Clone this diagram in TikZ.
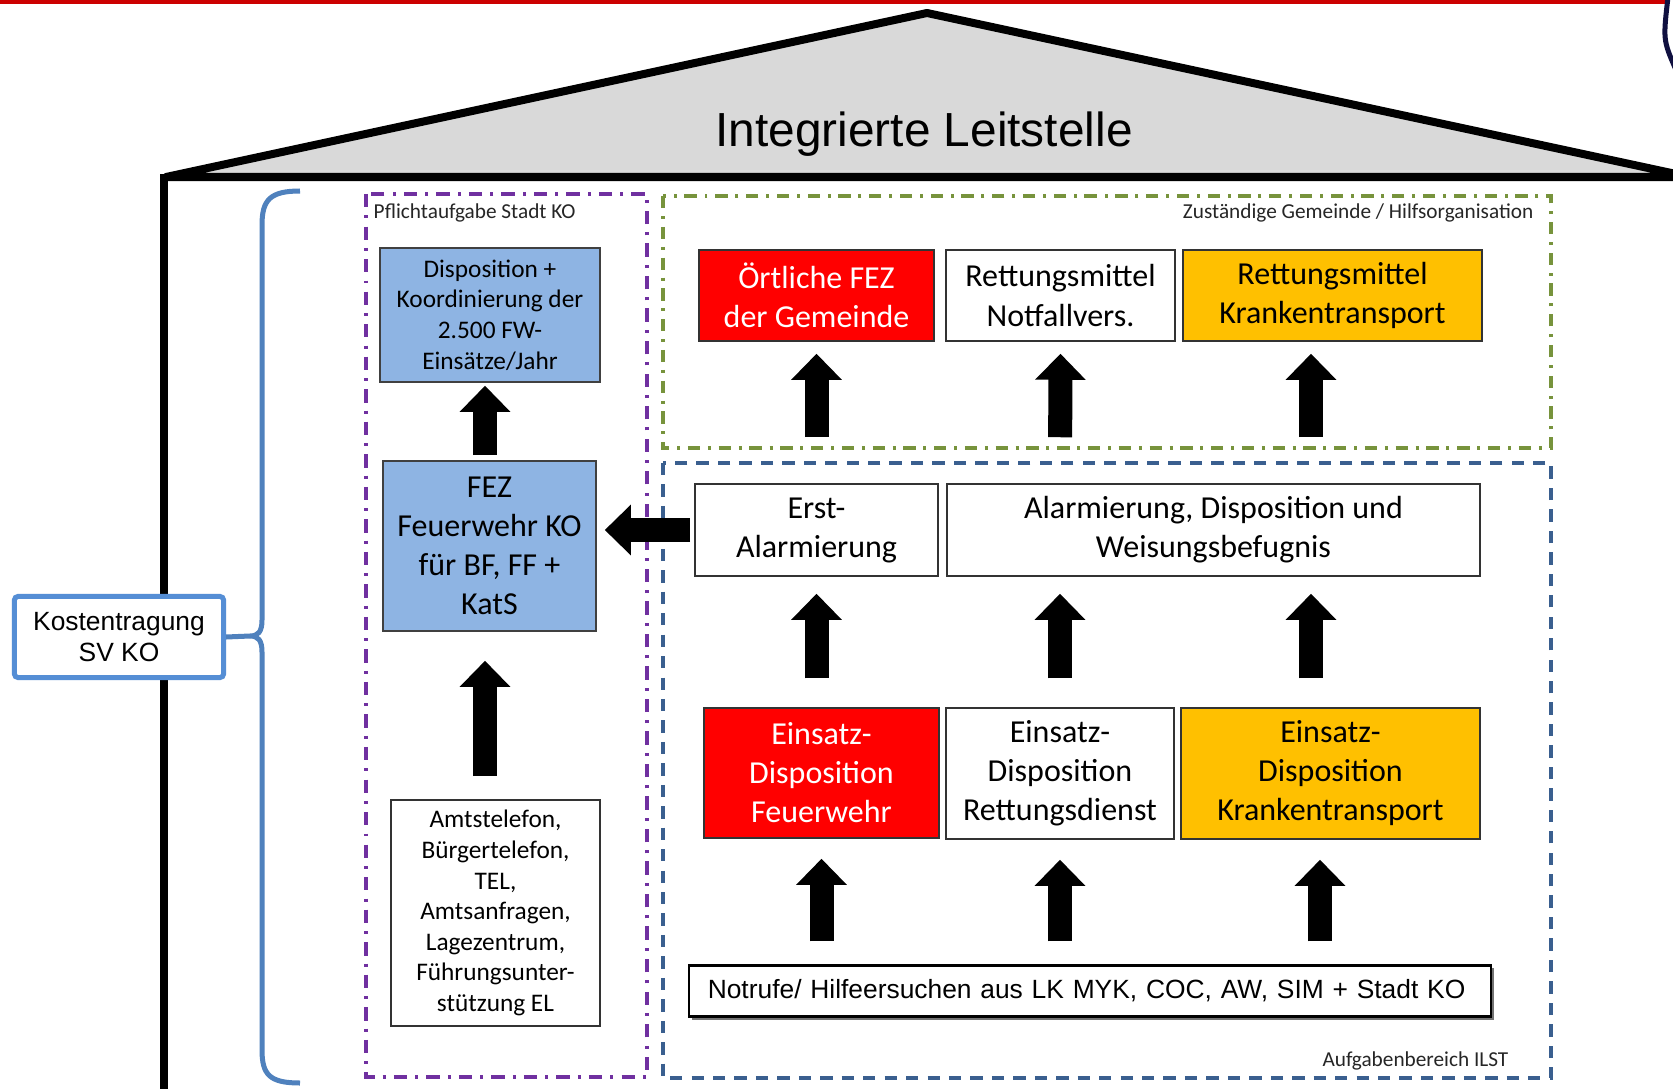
\documentclass[tikz,border=0pt]{standalone}
\usepackage{fontspec}
\setmainfont{Carlito}
\newfontfamily\arialfont{Liberation Sans}
\usetikzlibrary{arrows.meta,shadows}

\definecolor{roofgray}{HTML}{D9D9D9}
\definecolor{fezblue}{HTML}{8EB4E3}
\definecolor{orangebox}{HTML}{FFC000}
\definecolor{lila}{HTML}{7030A0}
\definecolor{oliv}{HTML}{77933C}
\definecolor{ilstblue}{HTML}{3A5F8F}
\definecolor{bracket}{HTML}{4F81BD}
\definecolor{kostblue}{HTML}{558ED5}
\definecolor{topred}{HTML}{CC0000}
\definecolor{navy}{HTML}{101040}

\tikzset{
  box/.style={draw=black!80, line width=0.4pt, inner sep=1pt, align=center,
    font=\fontsize{9.1}{11.1}\selectfont},
  klein/.style={font=\fontsize{7.2}{8.7}\selectfont},
  bluebox/.style={box, fill=fezblue, draw=black!75},
  redbox/.style={box, fill=red, text=white},
  orgbox/.style={box, fill=orangebox},
  blk/.style={line width=0.24cm, -{Triangle[width=0.49cm,length=0.26cm]}},
  lbl/.style={inner sep=0pt, font=\fontsize{6.05}{7}\selectfont, text=black!85},
  brc/.style={bracket, line width=0.05cm},
}

\begin{document}
\begin{tikzpicture}[x=0.01cm, y=-0.01cm]
\useasboundingbox[fill=white] (0,0) rectangle (1673,1088);

% frame of the slide
\draw[topred, line width=0.045cm] (0,2) -- (1667,2);
\draw[navy, line width=0.05cm] (1668,-3) .. controls (1663,40) .. (1676,70);

% house
\draw[line width=0.085cm] (164,174) -- (164,1095);
\filldraw[fill=roofgray, line width=0.08cm, line join=round] (166,177) -- (927,13) -- (1690,177) -- cycle;
\node[font=\arialfont\fontsize{13.6}{16}\selectfont] (titel) at (924,134) {Integrierte Leitstelle};

% areas
\draw[lila, line width=1pt, dash pattern=on 3.8pt off 2.3pt on 0.85pt off 2.3pt] (366,194) rectangle (647,1077);
\draw[oliv, line width=1pt, dash pattern=on 3.5pt off 2.2pt on 0.85pt off 2.2pt] (663,196) rectangle (1551,448);
\draw[ilstblue, line width=1.15pt, dash pattern=on 3.5pt off 2.6pt] (663,463) rectangle (1551,1078);
\node[lbl, anchor=west] (pflicht) at (373,213) {Pflichtaufgabe Stadt KO};
\node[lbl, anchor=east] (zust) at (1534,213) {Zuständige Gemeinde / Hilfsorganisation};
\node[lbl, anchor=east] (ilst) at (1509,1061) {Aufgabenbereich ILST};

% Stadt KO
\node[bluebox, klein, minimum width=2.20cm, minimum height=1.34cm] (disp) at (490,315) {Disposition +\\Koordinierung der\\2.500 FW-\\Einsätze/Jahr};
\node[bluebox, minimum width=2.13cm, minimum height=1.70cm] (fez) at (489.5,546) {FEZ\\Feuerwehr KO\\für BF, FF +\\KatS};
\node[box, klein, minimum width=2.09cm, minimum height=2.26cm] (amt) at (495.5,913) {Amtstelefon,\\Bürgertelefon,\\TEL,\\Amtsanfragen,\\Lagezentrum,\\Führungsunter-\\stützung EL};

% Gemeinde / Hilfsorganisation
\node[redbox, minimum width=2.35cm, minimum height=0.91cm] (ofez) at (816.5,295.5) {Örtliche FEZ\\der Gemeinde};
\node[box, minimum width=2.29cm, minimum height=0.91cm] (rnf) at (1060.5,295.5) {Rettungsmittel\\Notfallvers.};
\node[orgbox, minimum width=2.99cm, minimum height=0.91cm] (rkt) at (1332.5,295.5) {Rettungsmittel\\Krankentransport};

% ILST
\node[box, minimum width=2.43cm, minimum height=0.92cm] (erst) at (816.5,530) {Erst-\\Alarmierung};
\node[box, minimum width=5.33cm, minimum height=0.92cm] (weis) at (1213.5,530) {Alarmierung, Disposition und\\Weisungsbefugnis};
\node[redbox, minimum width=2.35cm, minimum height=1.30cm] (ed1) at (821.5,773) {Einsatz-\\Disposition\\Feuerwehr};
\node[box, minimum width=2.28cm, minimum height=1.31cm] (ed2) at (1060,773.5) {Einsatz-\\Disposition\\Rettungsdienst};
\node[orgbox, minimum width=2.99cm, minimum height=1.31cm] (ed3) at (1330.5,773.5) {Einsatz-\\Disposition\\Krankentransport};
\node[box, draw=black, line width=0.6pt, fill=white, font=\arialfont\fontsize{7.5}{9}\selectfont,
  drop shadow={shadow xshift=0.03cm, shadow yshift=-0.03cm, fill=black!55, opacity=1},
  text width=7.64cm, align=left,
  minimum width=8.02cm, minimum height=0.51cm] (notruf) at (1090,991) {Notrufe/ Hilfeersuchen aus LK MYK, COC, AW, SIM + Stadt KO};

% Kosten
\node[draw=kostblue, line width=0.05cm, fill=white, rounded corners=1pt, align=center,
  minimum width=2.09cm, minimum height=0.81cm, font=\arialfont\fontsize{7.5}{8.8}\selectfont] (kost) at (119,637) {Kostentragung\\SV KO};
\coordinate (spitze) at (250,636);
\draw[brc] (300,191) .. controls (270,191) and (262,200) .. (262,225) -- (262,620)
  .. controls (262,632) and (258,636) .. (spitze) .. controls (258,636) and (262,640) .. (262,652)
  -- (262,1050) .. controls (262,1075) and (270,1083) .. (300,1083);
\draw[brc] (kost.east) -- (spitze);

% arrows
\path[blk, shorten <=0.23cm, shorten >=0.29cm] (485,0 |- amt.north) edge (485,0 |- fez.south);
\path[blk, shorten <=0.05cm, shorten >=0.03cm] (485,0 |- fez.north) edge (485,0 |- disp.south);
\path[blk, shorten <=0.04cm, shorten >=0.08cm] (erst.west) edge (fez.east |- erst.west);

\path[blk, shorten <=0.46cm, shorten >=0.12cm] (erst.north) edge (ofez.south);
\path[blk, shorten <=0.46cm, shorten >=0.12cm] (1060,0 |- weis.north) edge (rnf.south);
\path[blk, shorten <=0.46cm, shorten >=0.12cm] (1311,0 |- weis.north) edge (1311,0 |- rkt.south);

\path[blk, shorten <=0.29cm, shorten >=0.17cm] (erst.south |- ed1.north) edge (erst.south);
\path[blk, shorten <=0.29cm, shorten >=0.17cm] (1060,0 |- ed2.north) edge (1060,0 |- weis.south);
\path[blk, shorten <=0.29cm, shorten >=0.17cm] (1311,0 |- ed3.north) edge (1311,0 |- weis.south);

\path[blk, shorten <=0.23cm, shorten >=0.20cm] (ed1.south |- notruf.north) edge (ed1.south);
\path[blk, shorten <=0.23cm, shorten >=0.20cm] (ed2.south |- notruf.north) edge (ed2.south);
\path[blk, shorten <=0.23cm, shorten >=0.20cm] (1320,0 |- notruf.north) edge (1320,0 |- ed3.south);
\end{tikzpicture}
\end{document}
